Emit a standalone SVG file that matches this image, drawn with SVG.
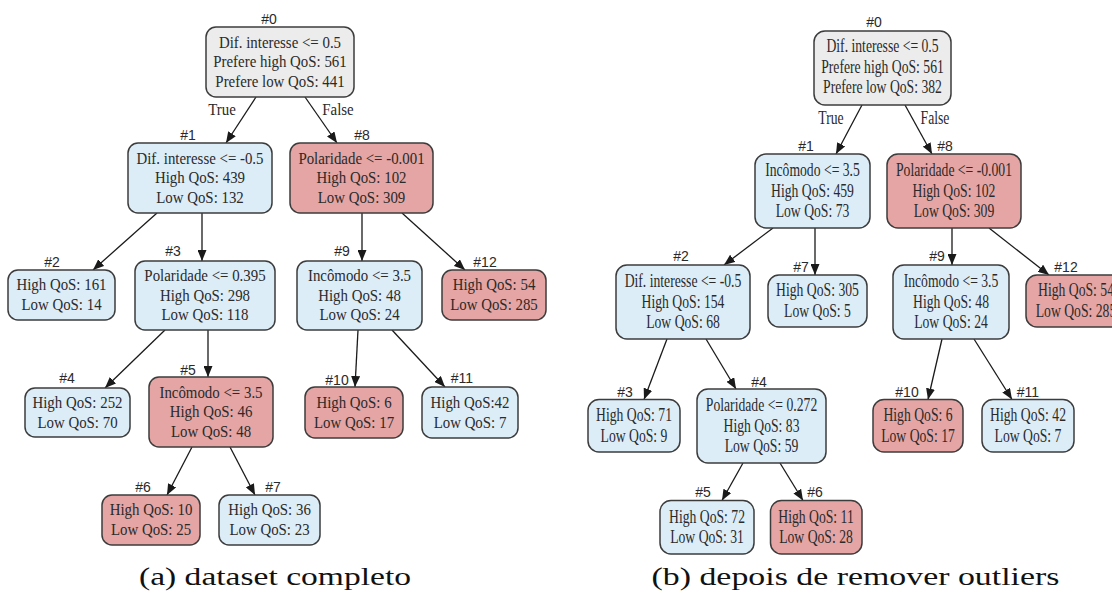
<svg xmlns="http://www.w3.org/2000/svg" width="1112" height="593" viewBox="0 0 1112 593">
<defs>
<marker id="ah" markerUnits="userSpaceOnUse" markerWidth="11" markerHeight="9" refX="11" refY="4.5" orient="auto">
<path d="M0,0 L11,4.5 L0,9 z" fill="#1a1a1a"/>
</marker>
<style>
.bg{fill:#ffffff}
rect.n{stroke:#3c3c3c;stroke-width:1.5}
.g{fill:#ececec}
.b{fill:#dcedf8}
.r{fill:#e4a5a4}
.lbl{font-family:"Liberation Sans",Arial,sans-serif;font-size:14px;fill:#2a2a2a;text-anchor:middle}
.tl{font-family:"Liberation Serif","Times New Roman",serif;font-size:17px;fill:#2a2a2a;text-anchor:middle}
.tr{font-family:"Liberation Serif","Times New Roman",serif;font-size:18px;fill:#2a2a2a;text-anchor:middle}
.e{fill:none;stroke:#1a1a1a;stroke-width:1.3;marker-end:url(#ah)}
.cap{font-family:"Liberation Serif","Times New Roman",serif;font-size:26px;fill:#111}
</style>
</defs>
<rect class="bg" x="0" y="0" width="1112" height="593"/>

<g id="connectors">
<path class="e" d="M256,97 L226,143"/>
<path class="e" d="M305,97 L337,143"/>
<path class="e" d="M157,213 L93,270"/>
<path class="e" d="M202,213 L202,261"/>
<path class="e" d="M362,213 L362,261"/>
<path class="e" d="M402,213 L465,270"/>
<path class="e" d="M165,330 L105,388"/>
<path class="e" d="M208,330 L208,377"/>
<path class="e" d="M358,330 L355,387"/>
<path class="e" d="M392,330 L445,387"/>
<path class="e" d="M192,447 L167,495"/>
<path class="e" d="M230,447 L255,495"/>

<path class="e" d="M862,105 L836,154"/>
<path class="e" d="M905,105 L932,154"/>
<path class="e" d="M773,228 L724,265"/>
<path class="e" d="M815,228 L815,275"/>
<path class="e" d="M952,228 L952,265"/>
<path class="e" d="M989,228 L1049,275"/>
<path class="e" d="M667,339 L644,399.5"/>
<path class="e" d="M706,339 L736,389"/>
<path class="e" d="M942,339 L928,399.5"/>
<path class="e" d="M974,339 L1012,399.5"/>
<path class="e" d="M743,463 L722,500.5"/>
<path class="e" d="M780,463 L803,500.5"/>
<g transform="translate(222 115) scale(0.875 1)"><text class="tl" x="0" y="0">True</text></g>
<g transform="translate(338 115) scale(0.875 1)"><text class="tl" x="0" y="0">False</text></g>
<g transform="translate(831 124) scale(0.76 1)"><text class="tr" x="0" y="0">True</text></g>
<g transform="translate(935 124) scale(0.76 1)"><text class="tr" x="0" y="0">False</text></g>
</g>

<!-- Left tree -->
<g id="a-n0">
<rect class="n g" x="206" y="27" width="148" height="70" rx="10"/>
<text class="lbl" x="269" y="24">#0</text>
<g transform="translate(280 0) scale(0.875 1)">
<text class="tl" x="0" y="48">Dif. interesse &lt;= 0.5</text>
<text class="tl" x="0" y="67.5">Prefere high QoS: 561</text>
<text class="tl" x="0" y="87">Prefere low QoS: 441</text>
</g>
</g>
<g id="a-n1">
<rect class="n b" x="128" y="143" width="144" height="70" rx="10"/>
<text class="lbl" x="188" y="140">#1</text>
<g transform="translate(200 0) scale(0.875 1)">
<text class="tl" x="0" y="164">Dif. interesse &lt;= -0.5</text>
<text class="tl" x="0" y="183.5">High QoS: 439</text>
<text class="tl" x="0" y="203">Low QoS: 132</text>
</g>
</g>
<g id="a-n8">
<rect class="n r" x="290" y="143" width="143" height="70" rx="10"/>
<text class="lbl" x="362" y="140">#8</text>
<g transform="translate(361.5 0) scale(0.875 1)">
<text class="tl" x="0" y="164">Polaridade &lt;= -0.001</text>
<text class="tl" x="0" y="183.5">High QoS: 102</text>
<text class="tl" x="0" y="203">Low QoS: 309</text>
</g>
</g>
<g id="a-n2">
<rect class="n b" x="8" y="270" width="107" height="50" rx="10"/>
<text class="lbl" x="52" y="267">#2</text>
<g transform="translate(61.5 0) scale(0.875 1)">
<text class="tl" x="0" y="290.5">High QoS: 161</text>
<text class="tl" x="0" y="310.5">Low QoS: 14</text>
</g>
</g>
<g id="a-n3">
<rect class="n b" x="135" y="261" width="140" height="69" rx="10"/>
<text class="lbl" x="173" y="256">#3</text>
<g transform="translate(205 0) scale(0.875 1)">
<text class="tl" x="0" y="281.5">Polaridade &lt;= 0.395</text>
<text class="tl" x="0" y="301">High QoS: 298</text>
<text class="tl" x="0" y="320.5">Low QoS: 118</text>
</g>
</g>
<g id="a-n9">
<rect class="n b" x="297" y="261" width="125" height="69" rx="10"/>
<text class="lbl" x="342" y="256">#9</text>
<g transform="translate(359.5 0) scale(0.875 1)">
<text class="tl" x="0" y="281.5">Incômodo &lt;= 3.5</text>
<text class="tl" x="0" y="301">High QoS: 48</text>
<text class="tl" x="0" y="320.5">Low QoS: 24</text>
</g>
</g>
<g id="a-n12">
<rect class="n r" x="442" y="270" width="104" height="50" rx="10"/>
<text class="lbl" x="485" y="267">#12</text>
<g transform="translate(494 0) scale(0.875 1)">
<text class="tl" x="0" y="290.5">High QoS: 54</text>
<text class="tl" x="0" y="310.5">Low QoS: 285</text>
</g>
</g>
<g id="a-n4">
<rect class="n b" x="25" y="388" width="105" height="49" rx="10"/>
<text class="lbl" x="67" y="383">#4</text>
<g transform="translate(77.5 0) scale(0.875 1)">
<text class="tl" x="0" y="408">High QoS: 252</text>
<text class="tl" x="0" y="428">Low QoS: 70</text>
</g>
</g>
<g id="a-n5">
<rect class="n r" x="149" y="377" width="124" height="70" rx="10"/>
<text class="lbl" x="188" y="375">#5</text>
<g transform="translate(211 0) scale(0.875 1)">
<text class="tl" x="0" y="398">Incômodo &lt;= 3.5</text>
<text class="tl" x="0" y="417.5">High QoS: 46</text>
<text class="tl" x="0" y="437">Low QoS: 48</text>
</g>
</g>
<g id="a-n10">
<rect class="n r" x="305" y="387" width="98" height="51" rx="10"/>
<text class="lbl" x="337" y="385">#10</text>
<g transform="translate(354 0) scale(0.875 1)">
<text class="tl" x="0" y="408">High QoS: 6</text>
<text class="tl" x="0" y="428">Low QoS: 17</text>
</g>
</g>
<g id="a-n11">
<rect class="n b" x="422" y="387" width="96" height="51" rx="10"/>
<text class="lbl" x="462" y="383">#11</text>
<g transform="translate(470 0) scale(0.875 1)">
<text class="tl" x="0" y="408">High QoS:42</text>
<text class="tl" x="0" y="428">Low QoS: 7</text>
</g>
</g>
<g id="a-n6">
<rect class="n r" x="102" y="495" width="98" height="50" rx="10"/>
<text class="lbl" x="143" y="492">#6</text>
<g transform="translate(151 0) scale(0.875 1)">
<text class="tl" x="0" y="515.5">High QoS: 10</text>
<text class="tl" x="0" y="535.5">Low QoS: 25</text>
</g>
</g>
<g id="a-n7">
<rect class="n b" x="219" y="495" width="101" height="50" rx="10"/>
<text class="lbl" x="273" y="492">#7</text>
<g transform="translate(269.5 0) scale(0.875 1)">
<text class="tl" x="0" y="515.5">High QoS: 36</text>
<text class="tl" x="0" y="535.5">Low QoS: 23</text>
</g>
</g>

<!-- Right tree -->
<g id="b-n0">
<rect class="n g" x="814" y="31" width="137" height="74" rx="11"/>
<text class="lbl" x="874" y="27">#0</text>
<g transform="translate(882.5 0) scale(0.76 1)">
<text class="tr" x="0" y="52.5">Dif. interesse &lt;= 0.5</text>
<text class="tr" x="0" y="73">Prefere high QoS: 561</text>
<text class="tr" x="0" y="93.5">Prefere low QoS: 382</text>
</g>
</g>
<g id="b-n1">
<rect class="n b" x="755" y="154" width="115" height="74" rx="11"/>
<text class="lbl" x="806" y="151">#1</text>
<g transform="translate(812.5 0) scale(0.76 1)">
<text class="tr" x="0" y="176.5">Incômodo &lt;= 3.5</text>
<text class="tr" x="0" y="197">High QoS: 459</text>
<text class="tr" x="0" y="217.5">Low QoS: 73</text>
</g>
</g>
<g id="b-n8">
<rect class="n r" x="887" y="154" width="134" height="74" rx="11"/>
<text class="lbl" x="945" y="151">#8</text>
<g transform="translate(954 0) scale(0.76 1)">
<text class="tr" x="0" y="176.5">Polaridade &lt;= -0.001</text>
<text class="tr" x="0" y="197">High QoS: 102</text>
<text class="tr" x="0" y="217.5">Low QoS: 309</text>
</g>
</g>
<g id="b-n2">
<rect class="n b" x="616" y="265" width="134" height="74" rx="11"/>
<text class="lbl" x="681" y="261">#2</text>
<g transform="translate(683 0) scale(0.76 1)">
<text class="tr" x="0" y="287.5">Dif. interesse &lt;= -0.5</text>
<text class="tr" x="0" y="308">High QoS: 154</text>
<text class="tr" x="0" y="328.5">Low QoS: 68</text>
</g>
</g>
<g id="b-n7">
<rect class="n b" x="768" y="275" width="99" height="52" rx="11"/>
<text class="lbl" x="801" y="272">#7</text>
<g transform="translate(817.5 0) scale(0.76 1)">
<text class="tr" x="0" y="296.5">High QoS: 305</text>
<text class="tr" x="0" y="317">Low QoS: 5</text>
</g>
</g>
<g id="b-n9">
<rect class="n b" x="893" y="265" width="116" height="74" rx="11"/>
<text class="lbl" x="937" y="261">#9</text>
<g transform="translate(951 0) scale(0.76 1)">
<text class="tr" x="0" y="287.5">Incômodo &lt;= 3.5</text>
<text class="tr" x="0" y="308">High QoS: 48</text>
<text class="tr" x="0" y="328.5">Low QoS: 24</text>
</g>
</g>
<g id="b-n12">
<rect class="n r" x="1026" y="275" width="100" height="52" rx="11"/>
<text class="lbl" x="1066" y="272">#12</text>
<g transform="translate(1076 0) scale(0.76 1)">
<text class="tr" x="0" y="296.5">High QoS: 54</text>
<text class="tr" x="0" y="317">Low QoS: 285</text>
</g>
</g>
<g id="b-n3">
<rect class="n b" x="588" y="399.5" width="92" height="52.5" rx="11"/>
<text class="lbl" x="625" y="397">#3</text>
<g transform="translate(634 0) scale(0.76 1)">
<text class="tr" x="0" y="421.5">High QoS: 71</text>
<text class="tr" x="0" y="442">Low QoS: 9</text>
</g>
</g>
<g id="b-n4">
<rect class="n b" x="697" y="389" width="129" height="74" rx="11"/>
<text class="lbl" x="759" y="387">#4</text>
<g transform="translate(761.5 0) scale(0.76 1)">
<text class="tr" x="0" y="411.5">Polaridade &lt;= 0.272</text>
<text class="tr" x="0" y="432">High QoS: 83</text>
<text class="tr" x="0" y="452.5">Low QoS: 59</text>
</g>
</g>
<g id="b-n10">
<rect class="n r" x="873" y="399.5" width="90" height="52.5" rx="11"/>
<text class="lbl" x="907" y="397">#10</text>
<g transform="translate(918 0) scale(0.76 1)">
<text class="tr" x="0" y="421.5">High QoS: 6</text>
<text class="tr" x="0" y="442">Low QoS: 17</text>
</g>
</g>
<g id="b-n11">
<rect class="n b" x="982" y="399.5" width="92" height="52.5" rx="11"/>
<text class="lbl" x="1028" y="397">#11</text>
<g transform="translate(1028 0) scale(0.76 1)">
<text class="tr" x="0" y="421.5">High QoS: 42</text>
<text class="tr" x="0" y="442">Low QoS: 7</text>
</g>
</g>
<g id="b-n5">
<rect class="n b" x="660" y="500.5" width="94" height="53.5" rx="11"/>
<text class="lbl" x="703" y="497">#5</text>
<g transform="translate(707 0) scale(0.76 1)">
<text class="tr" x="0" y="523">High QoS: 72</text>
<text class="tr" x="0" y="543.5">Low QoS: 31</text>
</g>
</g>
<g id="b-n6">
<rect class="n r" x="770.5" y="500.5" width="91.5" height="53.5" rx="11"/>
<text class="lbl" x="815" y="497">#6</text>
<g transform="translate(816 0) scale(0.76 1)">
<text class="tr" x="0" y="523">High QoS: 11</text>
<text class="tr" x="0" y="543.5">Low QoS: 28</text>
</g>
</g>

<g id="captions">
<text class="cap" x="139" y="585" textLength="272" lengthAdjust="spacingAndGlyphs">(a) dataset completo</text>
<text class="cap" x="651.5" y="585" textLength="408" lengthAdjust="spacingAndGlyphs">(b) depois de remover outliers</text>
</g>
</svg>
